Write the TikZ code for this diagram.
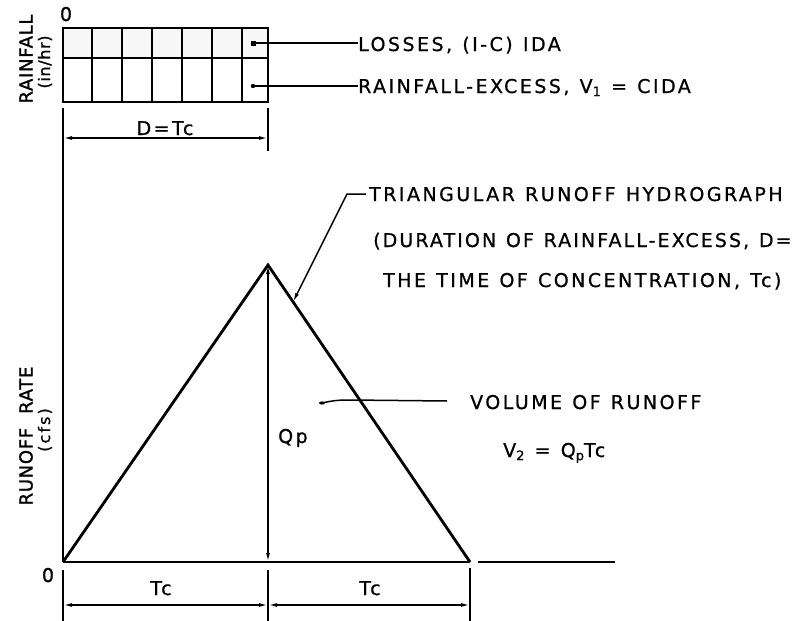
\documentclass[tikz,border=0pt]{standalone}
\usepackage{fontspec}
\setmainfont{DejaVu Sans}
\newfontfamily\lett[LetterSpace=13,WordSpace=1.2,FakeBold=0.8]{DejaVu Sans}
\newfontfamily\axlett[LetterSpace=4,FakeBold=1.2]{DejaVu Sans}
\usetikzlibrary{arrows.meta}
\newcommand\lowsub[1]{\raisebox{-0.3ex}{\fontsize{13}{13}\selectfont #1}}
\begin{document}
\begin{tikzpicture}[x=1pt,y=-1pt,
  heavy/.style={line width=2.8pt},
  boxline/.style={line width=2.2pt},
  dimline/.style={line width=1.5pt},
  lbl/.style={font=\lett\fontsize{19}{22}\selectfont, inner sep=0pt, anchor=base west},
  clbl/.style={font=\lett\fontsize{19}{22}\selectfont, inner sep=0pt, anchor=base},
  axlbl/.style={font=\axlett\fontsize{18}{20}\selectfont, inner sep=0pt, rotate=90}]
\useasboundingbox (0,0) rectangle (801,621);
% key points
\coordinate (O) at (63,562);
\coordinate (P) at (268,265);
\coordinate (E) at (470,562);
\coordinate (B) at (268,562);
% rainfall box
\draw[boxline, fill=gray!6] (63,28) rectangle (268,58);
\draw[boxline] (63,58) rectangle (268,102);
\foreach \xx in {92,122,152,182,212,242}
  \draw[boxline] (\xx,28) -- (\xx,102);
\node[clbl] (zt) at (66,21) {0};
\node[axlbl] (rf) at (26,59) {RAINFALL};
\node[axlbl, font=\axlett\fontsize{16}{18}\selectfont] (rfu) at (45,62) {(in/hr)};
% leaders top
\coordinate (l1) at (253,43);
\coordinate (l2) at (253,86);
\fill (l1) ++(-2.5,-2.5) rectangle ++(5,5);
\fill (l2) circle (2.2);
\node[lbl] (losses) at (358,51) {LOSSES, (I-C) IDA};
\node[lbl] (excess) at (358,93) {RAINFALL-EXCESS, V\lowsub{1} = CIDA};
\draw[dimline] (l1) -- (losses.west |- l1);
\draw[dimline] (l2) -- (excess.west |- l2);
% D = Tc dimension
\coordinate (dl) at (63,138);
\coordinate (dr) at (268,138);
\draw[dimline] (268,108) -- (268,151);
\draw[dimline, {Latex[length=9pt,width=4pt]}-{Latex[length=9pt,width=4pt]}] (dl) -- (dr);
\node[clbl] (dtc) at (165,135) {D=Tc};
% axes
\draw[heavy] (63,108) -- (O);
\draw[heavy] (O) -- (E);
\draw[heavy] (478,562) -- (615,562);
% triangle
\draw[heavy, line join=miter] (O) -- (P) -- (E);
% Qp
\draw[dimline, {Latex[length=9pt,width=4pt]}-{Latex[length=9pt,width=4pt]}] (P) -- (B);
\node[lbl] (qp) at (278,443) {Qp};
% triangular label
\node[lbl] (t1) at (369,201) {TRIANGULAR  RUNOFF  HYDROGRAPH};
\node[lbl, font=\lett\fontsize{19}{22}\selectfont\addfontfeatures{LetterSpace=11}] (t2) at (373,247) {(DURATION  OF  RAINFALL-EXCESS, D=};
\node[lbl] (t3) at (383,287) {THE TIME OF CONCENTRATION, Tc)};
\coordinate (tk) at (347,194);
\coordinate (tt) at (293,302);
\draw[dimline, -{Latex[length=9pt,width=4pt]}] (t1.west |- tk) ++(-3,0) -- (tk) -- (tt);
% volume label
\node[lbl] (v1) at (470,409) {VOLUME  OF  RUNOFF};
\node[lbl] (v2) at (503,457) {V\lowsub{2} = Q\lowsub{p}Tc};
\coordinate (vs) at (322,403);
\coordinate (ve) at (447,401);
\fill (vs) ellipse (3 and 1.6);
\draw[dimline] (vs) .. controls (335,400) and (342,400) .. (350,400) -- (ve);
\node[axlbl] (rr) at (26,436) {RUNOFF\hspace{14pt}RATE};
\node[axlbl, font=\lett\fontsize{16}{18}\selectfont] (rru) at (45,430) {(cfs)};
% bottom dimensions
\node[clbl] (zb) at (48,582) {0};
\draw[dimline] (63,570) -- (63,621);
\draw[dimline] (268,570) -- (268,621);
\draw[dimline] (470,568) -- (470,621);
\coordinate (b1) at (63,605);
\coordinate (b2) at (268,605);
\coordinate (b3) at (470,605);
\draw[dimline, {Latex[length=9pt,width=4pt]}-{Latex[length=9pt,width=4pt]}] (b1) -- (b2);
\draw[dimline, {Latex[length=9pt,width=4pt]}-{Latex[length=9pt,width=4pt]}] (b2) -- (b3);
\node[clbl] (tc1) at (161,595) {Tc};
\node[clbl] (tc2) at (370,595) {Tc};
\end{tikzpicture}
\end{document}
